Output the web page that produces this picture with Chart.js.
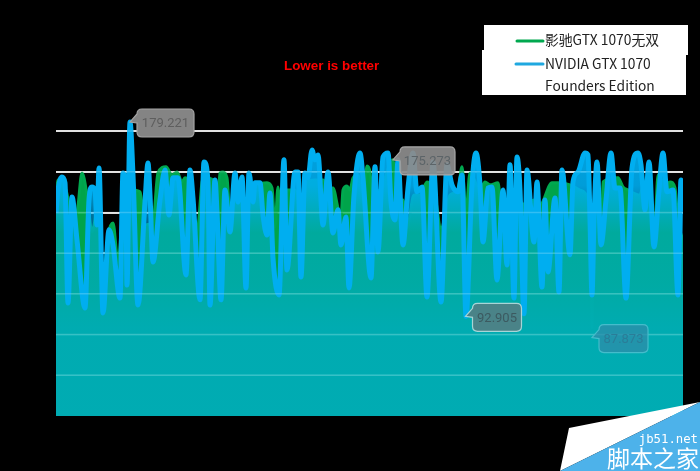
<!DOCTYPE html>
<html>
<head>
<meta charset="utf-8">
<title>Frame time</title>
<script src="https://cdn.jsdelivr.net/npm/chart.js@4/dist/chart.umd.min.js"></script>
<style>
    html, body { margin: 0; padding: 0; background: #000; }
    canvas { display: block; }
</style>
</head>
<body>
<canvas id="frameChart" width="700" height="471"></canvas>
<script>
// Values
const seriesNames = ['影驰GTX 1070无双', 'NVIDIA GTX 1070', 'Founders Edition'];
const subtitle = 'Lower is better';
const watermark = ['jb51.net', '脚本之家'];

const greenFrames = [0,2,10,16,21,26,31,36,43,47,52,57,62,67,71,74,79,84,89,97,102,110,116,121,126,129,134,141,147,157,162,164,167,171,174,179,186,190,194,202,211,216,219,222,224,229,239,245,249,259,267,274,277,282,285,287,291,294,297,302,307,311,314,316,324,337,341,347,351,358,364,371,378,385,394,402,406,410,414,424,429,434,442,446,459,469,478,484,496,502,514,524,533,535,536,537,539,546,547,562,567,572,584,587,594,599,602,609,614,619,622,627];
const greenValues = [144.6,153.5,149.0,137.9,139.3,156.6,146.8,130.4,144.6,108.2,129.0,134.4,117.0,140.2,143.7,153.5,149.0,148.2,133.5,134.8,156.6,159.3,155.7,157.0,152.6,154.4,151.3,130.4,154.4,153.5,146.8,156.6,157.0,154.4,137.9,146.8,146.8,139.3,146.8,151.3,152.2,149.9,132.6,150.4,143.7,149.0,149.0,137.9,151.3,153.5,153.5,149.0,149.9,141.0,136.6,149.0,150.8,149.0,154.4,155.7,143.7,159.7,157.0,148.2,149.0,162.4,143.7,144.6,132.2,146.8,146.8,152.6,149.0,132.2,146.8,149.0,159.3,139.3,156.6,149.0,152.6,151.3,152.2,137.9,145.5,142.4,144.6,142.4,152.2,152.2,151.3,149.0,142.4,120.0,87.873,120.0,142.4,136.6,152.6,154.4,150.4,149.0,146.8,150.4,146.8,134.8,155.7,151.3,152.6,149.9,134.8,126.8];

const blueFrames = [0,2,6,9,12,16,21,29,33,36,39,41,43,47,53,57,64,67,70,71,74,77,82,89,92,94,97,104,109,113,117,122,130,134,137,144,148,152,154,159,161,165,169,174,179,182,186,190,193,197,199,204,207,211,214,217,223,228,231,239,242,245,249,252,256,259,262,267,272,277,282,285,290,293,298,304,307,315,319,322,327,332,335,339,342,347,352,357,361,366,371,377,385,391,396,402,406,410,416,420,424,427,432,436,441,447,451,454,458,461,464,468,471,478,481,486,489,492,499,503,506,514,517,522,529,532,534,536,538,541,545,550,555,559,564,570,576,582,585,589,593,598,603,607,611,617,622,625,627];
const blueValues = [138.8,149.0,154.8,152.2,98.8,145.9,126.8,96.6,144.6,150.4,149.0,133.5,158.8,94.4,131.3,124.6,101.0,156.6,143.7,106.8,179.221,155.7,97.9,143.7,161.0,146.8,117.0,144.6,157.9,137.9,154.4,154.4,111.3,157.9,145.5,100.2,161.5,152.6,97.9,153.5,139.3,100.2,149.0,130.4,156.6,143.7,154.8,105.5,156.6,143.7,152.2,152.2,137.9,129.0,147.7,118.8,102.4,162.4,113.5,157.0,157.0,110.4,156.6,154.4,166.8,162.4,164.6,133.5,157.0,129.9,140.2,124.6,137.0,105.5,146.8,165.5,154.4,109.9,159.3,121.5,163.7,165.5,143.7,135.7,162.4,124.6,149.9,165.5,148.2,150.4,101.5,161.5,99.3,160.2,151.3,148.2,155.7,92.905,151.3,165.5,151.3,125.9,149.9,150.4,109.0,149.0,115.7,160.2,101.0,163.7,149.0,94.0,157.9,125.9,152.6,105.9,144.6,112.6,145.5,103.7,157.9,120.2,152.6,157.0,165.5,164.6,135.7,102.4,135.7,161.5,124.6,144.6,165.5,149.9,149.9,101.0,158.8,165.5,160.2,140.2,161.5,123.7,149.0,165.5,148.2,149.0,102.4,153.5,139.3];

const yTickValues = [66.7, 84.8, 102.9, 120.9, 139.0, 157.1, 175.2];

// point, value shown and how far the tip sits under the value
const calloutFrames = [74, 337, 409.5, 536];
const calloutValues = [179.221, 175.273, 92.905, 87.873];
const calloutLabels = ['179.221', '175.273', '92.905', '87.873'];
const calloutDrop = [0, 29, 0, 10];
const calloutWidths = [57, 55, 49, 49];
const calloutFills = ['#848484', 'rgba(140,140,140,0.93)', '#4a8388', 'rgba(45,140,170,0.75)'];
const calloutEdges = ['#a4a4a4', '#a8a8a8', '#a8d4d6', '#44bccb'];
const calloutInks = ['#5e5e5e', '#5c6468', '#3c5a60', '#2a7d98'];

function toPoints(xs, ys) {
    return xs.map((x, i) => ({ x: x, y: ys[i] }));
}

// Blue area is solid near the peaks, thin in the middle, denser at the bottom
function blueFill(context) {
    const area = context.chart.chartArea;
    if (!area) return 'rgba(0,176,240,0.6)';
    const gradient = context.chart.ctx.createLinearGradient(0, area.top, 0, area.bottom);
    gradient.addColorStop(0, 'rgba(0,174,240,0.96)');
    gradient.addColorStop(0.27, 'rgba(0,174,240,0.9)');
    gradient.addColorStop(0.42, 'rgba(0,176,240,0.5)');
    gradient.addColorStop(0.58, 'rgba(0,176,240,0.54)');
    gradient.addColorStop(0.72, 'rgba(0,176,240,0.62)');
    gradient.addColorStop(1, 'rgba(0,176,240,0.63)');
    return gradient;
}

// Faint grid lines that show through the filled areas
const gridOverlay = {
    id: 'gridOverlay',
    afterDatasetsDraw(chart) {
        const { ctx, chartArea, scales } = chart;
        ctx.save();
        ctx.strokeStyle = 'rgba(255,255,255,0.2)';
        ctx.lineWidth = 1.5;
        yTickValues.forEach(v => {
            const y = scales.y.getPixelForValue(v);
            ctx.beginPath();
            ctx.moveTo(chartArea.left, y);
            ctx.lineTo(chartArea.right, y);
            ctx.stroke();
        });
        ctx.restore();
    }
};

// Speech bubble labels on the peaks and valleys
const callouts = {
    id: 'callouts',
    afterDatasetsDraw(chart) {
        const { ctx, scales } = chart;
        const h = 28, r = 5;
        calloutFrames.forEach((frame, i) => {
            const tipX = scales.x.getPixelForValue(frame);
            const tipY = scales.y.getPixelForValue(calloutValues[i]) + calloutDrop[i];
            const left = tipX + 7;
            const top = tipY - 13;
            const w = calloutWidths[i];

            ctx.save();
            ctx.beginPath();
            ctx.moveTo(left + r, top);
            ctx.lineTo(left + w - r, top);
            ctx.quadraticCurveTo(left + w, top, left + w, top + r);
            ctx.lineTo(left + w, top + h - r);
            ctx.quadraticCurveTo(left + w, top + h, left + w - r, top + h);
            ctx.lineTo(left + r, top + h);
            ctx.quadraticCurveTo(left, top + h, left, top + h - r);
            ctx.lineTo(left, tipY + 1);
            ctx.lineTo(tipX, tipY);
            ctx.lineTo(left, top + 5);
            ctx.quadraticCurveTo(left, top, left + r, top);
            ctx.closePath();
            ctx.fillStyle = calloutFills[i];
            ctx.fill();
            ctx.strokeStyle = calloutEdges[i];
            ctx.lineWidth = 1.2;
            ctx.stroke();

            ctx.fillStyle = calloutInks[i];
            ctx.font = '13px Roboto';
            ctx.textAlign = 'center';
            ctx.textBaseline = 'middle';
            ctx.fillText(calloutLabels[i], left + w / 2, top + h / 2 + 1);
            ctx.restore();
        });
    }
};

// Subtitle, legend box and the site watermark
const decorations = {
    id: 'decorations',
    afterDraw(chart) {
        const { ctx } = chart;
        ctx.save();

        ctx.fillStyle = '#ff0000';
        ctx.font = 'bold 13.4px "Liberation Sans"';
        ctx.textAlign = 'left';
        ctx.textBaseline = 'middle';
        ctx.fillText(subtitle, 284, 66);

        ctx.fillStyle = '#ffffff';
        ctx.fillRect(484, 25, 204, 30);
        ctx.fillRect(482, 50, 204, 45);

        ctx.lineWidth = 3;
        ctx.lineCap = 'round';
        ctx.strokeStyle = '#00a84f';
        ctx.beginPath();
        ctx.moveTo(517, 41);
        ctx.lineTo(543, 41);
        ctx.stroke();
        ctx.strokeStyle = '#1fa8e0';
        ctx.beginPath();
        ctx.moveTo(516, 64);
        ctx.lineTo(543, 64);
        ctx.stroke();

        ctx.fillStyle = '#222222';
        ctx.font = '13.8px "Noto Sans CJK SC"';
        ctx.fillText(seriesNames[0], 545, 40);
        ctx.fillText(seriesNames[1], 545, 64);
        ctx.fillText(seriesNames[2], 545, 86);

        ctx.fillStyle = '#ffffff';
        ctx.beginPath();
        ctx.moveTo(569, 428);
        ctx.lineTo(700, 402);
        ctx.lineTo(560, 471);
        ctx.closePath();
        ctx.fill();
        ctx.fillStyle = '#4db2ea';
        ctx.beginPath();
        ctx.moveTo(700, 402);
        ctx.lineTo(700, 471);
        ctx.lineTo(560, 471);
        ctx.closePath();
        ctx.fill();

        ctx.fillStyle = '#ffffff';
        ctx.textAlign = 'right';
        ctx.font = '12.3px "DejaVu Sans Mono"';
        ctx.fillText(watermark[0], 698, 440);
        ctx.font = '23px "Noto Sans CJK SC"';
        ctx.fillText(watermark[1], 699, 458);

        ctx.restore();
    }
};

new Chart(document.getElementById('frameChart'), {
    type: 'line',
    data: {
        datasets: [
            {
                label: seriesNames[0],
                data: toPoints(greenFrames, greenValues),
                borderColor: '#00a84f',
                backgroundColor: 'rgba(0,176,80,0.93)',
                borderWidth: 3,
                fill: 'origin',
                cubicInterpolationMode: 'monotone',
                pointRadius: 0,
                order: 2
            },
            {
                label: seriesNames[1],
                data: toPoints(blueFrames, blueValues),
                borderColor: '#00aef0',
                backgroundColor: blueFill,
                borderWidth: 5,
                borderJoinStyle: 'round',
                fill: 'origin',
                cubicInterpolationMode: 'monotone',
                pointRadius: 0,
                order: 1
            }
        ]
    },
    options: {
        responsive: false,
        animation: false,
        devicePixelRatio: 1,
        layout: { padding: { left: 56, right: 17, top: 100, bottom: 55 } },
        plugins: {
            legend: { display: false },
            tooltip: { enabled: false }
        },
        scales: {
            x: {
                type: 'linear',
                min: 0,
                max: 627,
                display: false
            },
            y: {
                min: 48.6,
                max: 189,
                afterBuildTicks: axis => {
                    axis.ticks = yTickValues.map(v => ({ value: v }));
                },
                border: { display: false },
                ticks: { display: false },
                grid: { color: '#dcdcdc', lineWidth: 2, drawTicks: false }
            }
        }
    },
    plugins: [gridOverlay, callouts, decorations]
});
</script>
</body>
</html>
